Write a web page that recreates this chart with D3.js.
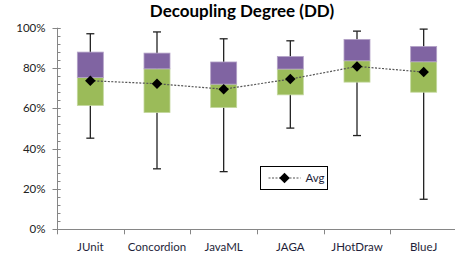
<!DOCTYPE html>
<html>
<head>
<meta charset="utf-8">
<script src="https://cdn.jsdelivr.net/npm/d3@7"></script>
<style>
  body { margin: 0; background: #fff; }
  text { font-family: Lato, "Open Sans", sans-serif; }
</style>
</head>
<body>
<svg id="chart"></svg>
<script>
// values (fractions of 1)
const projects = ["JUnit", "Concordion", "JavaML", "JAGA", "JHotDraw", "BlueJ"];
const minVals = [0.452, 0.300, 0.286, 0.502, 0.465, 0.149];
const q1Vals = [0.614, 0.579, 0.604, 0.667, 0.730, 0.680];
const medianVals = [0.753, 0.796, 0.720, 0.795, 0.836, 0.831];
const q3Vals = [0.879, 0.874, 0.830, 0.857, 0.942, 0.907];
const maxVals = [0.970, 0.979, 0.945, 0.935, 0.983, 0.993];
const avgVals = [0.737, 0.722, 0.695, 0.745, 0.808, 0.780];
const yTicks = [0, 0.2, 0.4, 0.6, 0.8, 1.0];

const W = 455, H = 263;
const svg = d3.select("#chart").attr("width", W).attr("height", H);

const x = d3.scaleBand().domain(projects).range([57, 457]);
const y = d3.scaleLinear().domain([0, 1]).range([229.3, 27.7]);
const boxW = 26;

// title
svg.append("text")
  .attr("x", 242).attr("y", 16.5)
  .attr("text-anchor", "middle")
  .style("font-size", "17px").style("font-weight", "bold")
  .attr("fill", "#000")
  .text("Decoupling Degree (DD)");

// y axis
const yAxis = svg.append("g").attr("transform", "translate(57.5,0)");
yAxis.append("line").attr("y1", y(0)).attr("y2", y(1)).attr("stroke", "#868686");
yAxis.selectAll(".minor")
  .data(d3.range(0, 1.0001, 0.04))
  .join("line")
  .attr("x1", 0).attr("x2", 3)
  .attr("y1", d => Math.round(y(d)) + 0.5).attr("y2", d => Math.round(y(d)) + 0.5)
  .attr("stroke", "#868686");
yAxis.selectAll(".major")
  .data(yTicks)
  .join("line")
  .attr("x1", -5).attr("x2", 3)
  .attr("y1", d => Math.round(y(d)) + 0.5).attr("y2", d => Math.round(y(d)) + 0.5)
  .attr("stroke", "#868686");
yAxis.selectAll("text")
  .data(yTicks)
  .join("text")
  .attr("x", -12).attr("y", d => y(d) + 4)
  .attr("text-anchor", "end")
  .style("font-size", "11.5px")
  .attr("fill", "#222")
  .text(d3.format(".0%"));

// x axis
const xAxis = svg.append("g");
xAxis.append("line")
  .attr("x1", 57).attr("x2", W)
  .attr("y1", Math.round(y(0)) + 0.5).attr("y2", Math.round(y(0)) + 0.5)
  .attr("stroke", "#868686");
xAxis.selectAll(".tick")
  .data(projects)
  .join("line")
  .attr("x1", d => Math.round(x(d)) + 0.5).attr("x2", d => Math.round(x(d)) + 0.5)
  .attr("y1", y(0)).attr("y2", y(0) + 5)
  .attr("stroke", "#868686");
xAxis.selectAll("text")
  .data(projects)
  .join("text")
  .attr("x", d => x(d) + x.bandwidth() / 2)
  .attr("y", 251)
  .attr("text-anchor", "middle")
  .style("font-size", "11.5px")
  .attr("fill", "#1f1f3a")
  .text(d => d);

// whiskers
const g = svg.append("g");
const cx = i => x(projects[i]) + x.bandwidth() / 2;
g.selectAll(".whisker")
  .data(projects)
  .join("line")
  .attr("x1", (d, i) => cx(i)).attr("x2", (d, i) => cx(i))
  .attr("y1", (d, i) => y(minVals[i])).attr("y2", (d, i) => y(maxVals[i]))
  .attr("stroke", "#222").attr("stroke-width", 1.3);
[minVals, maxVals].forEach(arr => {
  g.selectAll(null)
    .data(projects)
    .join("line")
    .attr("x1", (d, i) => cx(i) - 4).attr("x2", (d, i) => cx(i) + 4)
    .attr("y1", (d, i) => y(arr[i])).attr("y2", (d, i) => y(arr[i]))
    .attr("stroke", "#222").attr("stroke-width", 1.3);
});

// boxes: lower part green (q1-median), upper part purple (median-q3)
g.selectAll(".lower")
  .data(projects)
  .join("rect")
  .attr("x", (d, i) => cx(i) - boxW / 2)
  .attr("width", boxW)
  .attr("y", (d, i) => y(medianVals[i]))
  .attr("height", (d, i) => y(q1Vals[i]) - y(medianVals[i]))
  .attr("fill", "#9bbb59")
  .attr("stroke", "#c4d89e").attr("stroke-width", 0.8);
g.selectAll(".upper")
  .data(projects)
  .join("rect")
  .attr("x", (d, i) => cx(i) - boxW / 2)
  .attr("width", boxW)
  .attr("y", (d, i) => y(q3Vals[i]))
  .attr("height", (d, i) => y(medianVals[i]) - y(q3Vals[i]))
  .attr("fill", "#8064a2")
  .attr("stroke", "#b3a2c7").attr("stroke-width", 0.8);

// avg line
const line = d3.line().x((d, i) => cx(i)).y(d => y(d));
g.append("path")
  .attr("d", line(avgVals))
  .attr("fill", "none")
  .attr("stroke", "#555")
  .attr("stroke-width", 1.2)
  .attr("stroke-dasharray", "2,1.5");
const diamond = d3.symbol().type(d3.symbolDiamond2).size(70);
g.selectAll(".avg")
  .data(avgVals)
  .join("path")
  .attr("d", diamond)
  .attr("transform", (d, i) => "translate(" + cx(i) + "," + y(d) + ")")
  .attr("fill", "#000");

// legend
const leg = svg.append("g").attr("transform", "translate(260.5,166.5)");
leg.append("rect").attr("width", 67).attr("height", 23)
  .attr("fill", "#fff").attr("stroke", "#000").attr("stroke-width", 1);
leg.append("line").attr("x1", 8).attr("x2", 40).attr("y1", 11.5).attr("y2", 11.5)
  .attr("stroke", "#555").attr("stroke-width", 1.2).attr("stroke-dasharray", "2,1.5");
leg.append("path").attr("d", diamond).attr("transform", "translate(24,11.5)").attr("fill", "#000");
leg.append("text").attr("x", 45).attr("y", 15.5)
  .style("font-size", "11.5px").attr("fill", "#1f1f3a").text("Avg");
</script>
</body>
</html>
